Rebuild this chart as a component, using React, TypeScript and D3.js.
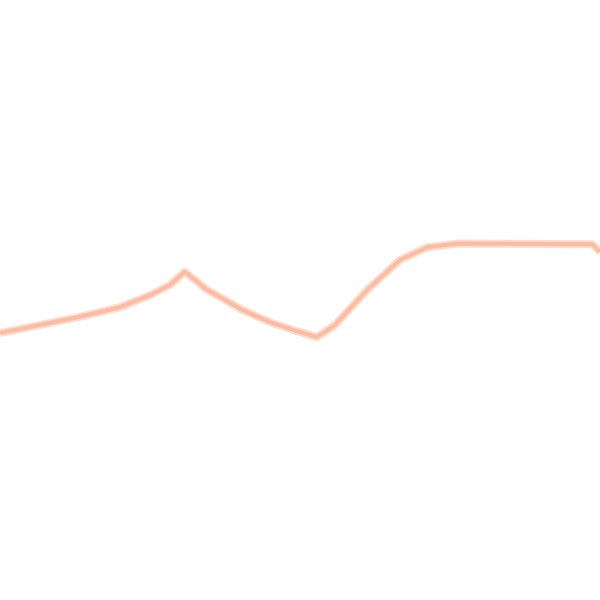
import React, { useEffect } from "react";
import * as d3 from "d3";

// x positions (abstract units 0..100) and y values (0..100)
const xValues = [0, 13.3, 20, 25, 28.3, 30.8, 34.5, 40.5, 45, 49.5, 52.8, 55.8, 61.2, 66.7, 71.2, 76.2, 98.7, 100];
const yValues = [44.5, 47.2, 48.8, 50.8, 52.5, 54.7, 51.7, 48.3, 46.3, 44.8, 43.8, 45.8, 51.7, 56.7, 58.8, 59.4, 59.3, 58.0];

const W = 600;
const H = 600;

export default function App() {
  useEffect(() => {
    document.body.style.margin = "0";
  }, []);

  const x = d3.scaleLinear().domain([0, 100]).range([0, W]);
  const y = d3.scaleLinear().domain([0, 100]).range([H, 0]);
  const data = xValues.map((v, i) => [v, yValues[i]] as [number, number]);
  const line = d3
    .line<[number, number]>()
    .x((d) => x(d[0]))
    .y((d) => y(d[1]))
    .curve(d3.curveLinear);
  const path = line(data) || "";

  return (
    <svg width={W} height={H} style={{ display: "block", background: "#fff" }}>
      <path d={path} fill="none" stroke="#fedccb" strokeWidth={8} strokeLinejoin="round" />
      <path d={path} fill="none" stroke="#fdbba2" strokeWidth={4} strokeLinejoin="round" />
    </svg>
  );
}
